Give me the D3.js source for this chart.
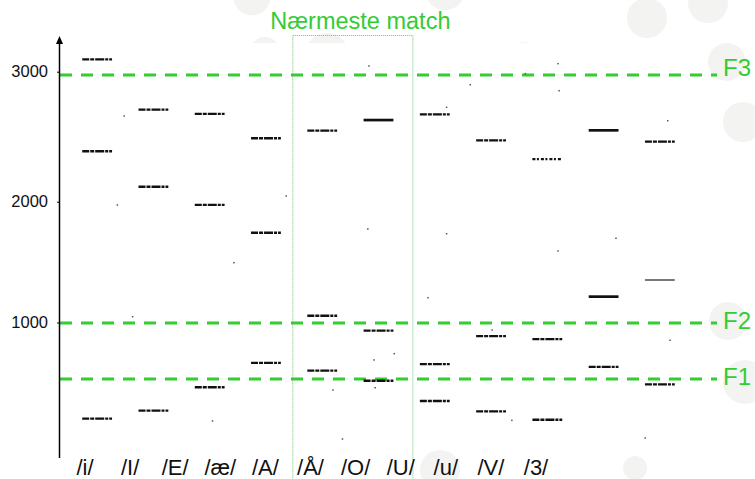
<!DOCTYPE html>
<html><head><meta charset="utf-8">
<script src="https://cdn.jsdelivr.net/npm/d3@7"></script>
<style>
html,body{margin:0;padding:0;background:#fff;}
svg{display:block;font-family:"Liberation Sans",Arial,Helvetica,sans-serif;}
</style></head><body>
<svg id="chart" width="755" height="479"></svg>
<script>
// ---- data ----
const categories = ["c1","c2","c3","c4","c5","c6","c7","c8","c9","c10","c11"];
const vowelLabels = ["/i/","/I/","/E/","/æ/","/A/","/Å/","/O/","/U/","/u/","/V/","/3/"];
const f1Values = [204, 270, 464, 665, 601, 518, 350, 265, 195, 632, 488];
const f2Values = [2388, 2115, 1973, 1743, 1056, 932, 656, 888, 863, 1214, 1352];
const f3Values = [3095, 2708, 2675, 2488, 2546, 2628, 2672, 2472, 2328, 2549, 2462];
const yTicks = [1000, 2000, 3000];
const refNames = ["F3", "F2", "F1"];
const refValues = [2975, 995, 532];
const strayColumn = [0.48, 0.36, 3.36, 4.83, 4.81, 8.19, 7.61, 6.63, 8.21, 6.21, 6.21, 10.14, 9.22, 2.43, 0.63, 2.05, 5.28, 4.92, 4.19, 4.94, 4.36, 8.19, 5.88, 7.02, 7.37, 10.18, 9.74];
const strayValue  = [2659, 1973, 2044, 3044, 1774, 3062, 2985, 2900, 2854, 2726, 1735, 2623, 1697, 1495, 1048, 185, 742, 690, 441, 460, 36, 1592, 1205, 938, 190, 853, 44];
const highlightTitle = "Nærmeste match";
const highlightCats = ["c5", "c6"];

// ---- layout ----
const W = 755, H = 479;
const svg = d3.select("#chart");
const green = "#33cc33";

const y = d3.scaleLinear().domain([1000, 2000, 3000]).range([322.5, 201.7, 71.7]);
const xBand = d3.scaleBand().domain(categories).range([69, 688]).paddingInner(0.47).paddingOuter(0.235);
const colScale = d3.scaleLinear().domain([0, categories.length - 1])
  .range([xBand(categories[0]) + xBand.bandwidth() / 2, xBand(categories[categories.length - 1]) + xBand.bandwidth() / 2]);
const xLabel = d3.scalePoint().domain(vowelLabels).range([85, 536]);

// decorative background circles
const decor = [[252,-3,18.5],[265,52,15],[327,55,22],[445,-10,20],[523,62,20],[647,18,20],[708,3,20],[727,62,19],[743,122,20],[728,321,19],[745,382,22],[635,468,12],[440,470,20]];
svg.append("g").selectAll("circle").data(decor).join("circle")
  .attr("cx", d => d[0]).attr("cy", d => d[1]).attr("r", d => d[2]).attr("fill", "#f3f3f2");
svg.append("rect").attr("x", 0).attr("y", 43).attr("width", 700).attr("height", 407).attr("fill", "#fff");

// highlight box
const bx0 = xBand(highlightCats[0]) - 15;
const bx1 = xBand(highlightCats[1]) + xBand.bandwidth() + 19;
svg.append("rect").attr("x", bx0 + 0.5).attr("y", 35.5).attr("width", bx1 - bx0).attr("height", 470)
  .attr("fill", "none").attr("stroke", "#55d455").attr("stroke-width", 1).attr("stroke-dasharray", "1,1");
svg.append("text").attr("x", (bx0 + bx1) / 2 + 8).attr("y", 29).attr("text-anchor", "middle")
  .attr("font-size", 23.5).attr("fill", green).text(highlightTitle);

// reference dashed lines
const refOffsets = {F3: 1.5, F2: 6, F1: 6};
const refG = svg.append("g");
refG.selectAll("line").data(refValues).join("line")
  .attr("x1", 60).attr("x2", 717).attr("y1", d => y(d)).attr("y2", d => y(d))
  .attr("stroke", green).attr("stroke-width", 3).attr("stroke-dasharray", "12,9");
refG.selectAll("text").data(refNames).join("text")
  .attr("x", 723).attr("y", (d, i) => y(refValues[i]) + refOffsets[d])
  .attr("font-size", 24).attr("fill", green).text(d => d);

// formant marks
const solid = {"c10-1": "#000", "c6-2": "#000", "c10-2": "#000"};
const grey = {"c11-1": "#777"};
const marks = [];
categories.forEach((c, i) => {
  marks.push({c, k: 0, v: f1Values[i]});
  marks.push({c, k: 1, v: f2Values[i]});
  marks.push({c, k: 2, v: f3Values[i]});
});
svg.append("g").selectAll("line").data(marks).join("line")
  .attr("x1", d => xBand(d.c)).attr("x2", d => xBand(d.c) + xBand.bandwidth())
  .attr("y1", d => y(d.v)).attr("y2", d => y(d.v))
  .attr("stroke", d => grey[d.c + "-" + d.k] || "#111")
  .attr("stroke-width", d => solid[d.c + "-" + d.k] ? 2.7 : (grey[d.c + "-" + d.k] ? 2 : 2.3))
  .attr("stroke-dasharray", d => (solid[d.c + "-" + d.k] || grey[d.c + "-" + d.k]) ? null : (d.c === "c9" && d.k === 2 ? "3,1.5,2,2" : "7,1,4,1,9,1,3,1"));

// stray points
svg.append("g").selectAll("rect").data(strayValue).join("rect")
  .attr("x", (d, i) => colScale(strayColumn[i]) - 0.75).attr("y", d => y(d) - 0.75)
  .attr("width", 1.5).attr("height", 1.5).attr("fill", "#555");

// y axis
const axisG = svg.append("g").attr("transform", "translate(60,0)")
  .call(d3.axisLeft(y).tickValues(yTicks).tickSize(3).tickPadding(9).tickFormat(d3.format("d")));
axisG.select(".domain").remove();
axisG.attr("font-size", 16.5).attr("font-family", "'Liberation Sans',Arial,sans-serif");
axisG.selectAll("text").attr("fill", "#111");
axisG.selectAll(".tick line").attr("stroke", "#000");
svg.append("line").attr("x1", 59.5).attr("x2", 59.5).attr("y1", 458).attr("y2", 42)
  .attr("stroke", "#000").attr("stroke-width", 1.5);
svg.append("path").attr("d", "M59.5,36 L63,44 L56,44 Z").attr("fill", "#000");

// category labels
svg.append("g").selectAll("text").data(vowelLabels).join("text")
  .attr("x", d => xLabel(d)).attr("y", 475).attr("text-anchor", "middle")
  .attr("font-size", 22).attr("fill", "#111").text(d => d);
</script>
</body></html>
